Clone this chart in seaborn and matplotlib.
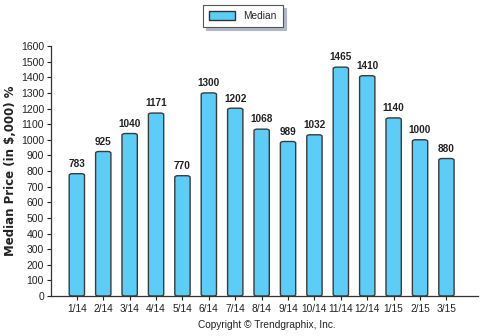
import matplotlib
matplotlib.use("Agg")
import matplotlib.pyplot as plt
import seaborn as sns
import pandas as pd
from matplotlib.patches import FancyBboxPatch, Patch

months = ["1/14", "2/14", "3/14", "4/14", "5/14", "6/14", "7/14", "8/14",
          "9/14", "10/14", "11/14", "12/14", "1/15", "2/15", "3/15"]
median = [783, 925, 1040, 1171, 770, 1300, 1202, 1068, 989, 1032, 1465, 1410, 1140, 1000, 880]

df = pd.DataFrame({"month": months, "Median": median})

sns.set_theme(style="white")
plt.rcParams['font.family'] = ['Liberation Sans', 'DejaVu Sans']

BAR = "#5BCDF7"
EDGE = "#3a3a3a"

fig = plt.figure(figsize=(4.81, 3.36), dpi=100)
ax = fig.add_axes([0.106, 0.119, 0.888, 0.744])

sns.barplot(data=df, x="month", y="Median", color=BAR, width=0.58,
            edgecolor=EDGE, linewidth=1.0, saturation=1, ax=ax)

# rounded tops
for p in list(ax.patches):
    x, y = p.get_x(), p.get_y()
    w, h = p.get_width(), p.get_height()
    p.set_visible(False)
    fb = FancyBboxPatch((x, y), w, h, boxstyle="round,pad=0,rounding_size=0.12",
                        mutation_aspect=1600 / 16 * 0.9, facecolor=BAR,
                        edgecolor=EDGE, linewidth=1.0)
    ax.add_patch(fb)

for i, v in enumerate(median):
    ax.text(i, v + 30, str(v), ha="center", va="bottom", fontsize=7.2,
            fontweight="bold", color="#222222")

ax.set_ylim(0, 1600)
ax.set_xlim(-0.98, 15.2)
ax.set_yticks(range(0, 1601, 100))
ax.tick_params(axis="y", labelsize=7.5, length=3, width=0.8, colors="#222222", pad=2)
ax.tick_params(axis="x", labelsize=7.3, length=3, width=0.8, colors="#222222", pad=3)
ax.yaxis.set_ticks_position("left")
ax.xaxis.set_ticks_position("bottom")
for s in ["top", "right"]:
    ax.spines[s].set_visible(False)
for s in ["left", "bottom"]:
    ax.spines[s].set_color("#333333")
    ax.spines[s].set_linewidth(0.9)

ax.set_xlabel("")
ax.set_ylabel("Median Price (in $,000) %", fontsize=8.5, fontweight="bold",
              color="#222222", labelpad=3, family=["DejaVu Sans"])

if ax.get_legend() is not None:
    ax.get_legend().remove()
handle = Patch(facecolor=BAR, edgecolor="#333333", linewidth=1.0)
leg = fig.legend([handle], ["Median"], loc="center", bbox_to_anchor=(0.505, 0.952),
                 frameon=True, fancybox=False, shadow={"color": "#b0b8c8", "alpha": 1},
                 handlelength=2.6, handleheight=0.9, borderpad=0.6,
                 edgecolor="#555555", prop={"size": 7.3})
leg.get_frame().set_linewidth(0.8)

fig.text(0.555, 0.032, "Copyright \u00a9 Trendgraphix, Inc.", ha="center", va="center",
         fontsize=7.3, color="#222222")

fig.savefig("out.png", dpi=100)
